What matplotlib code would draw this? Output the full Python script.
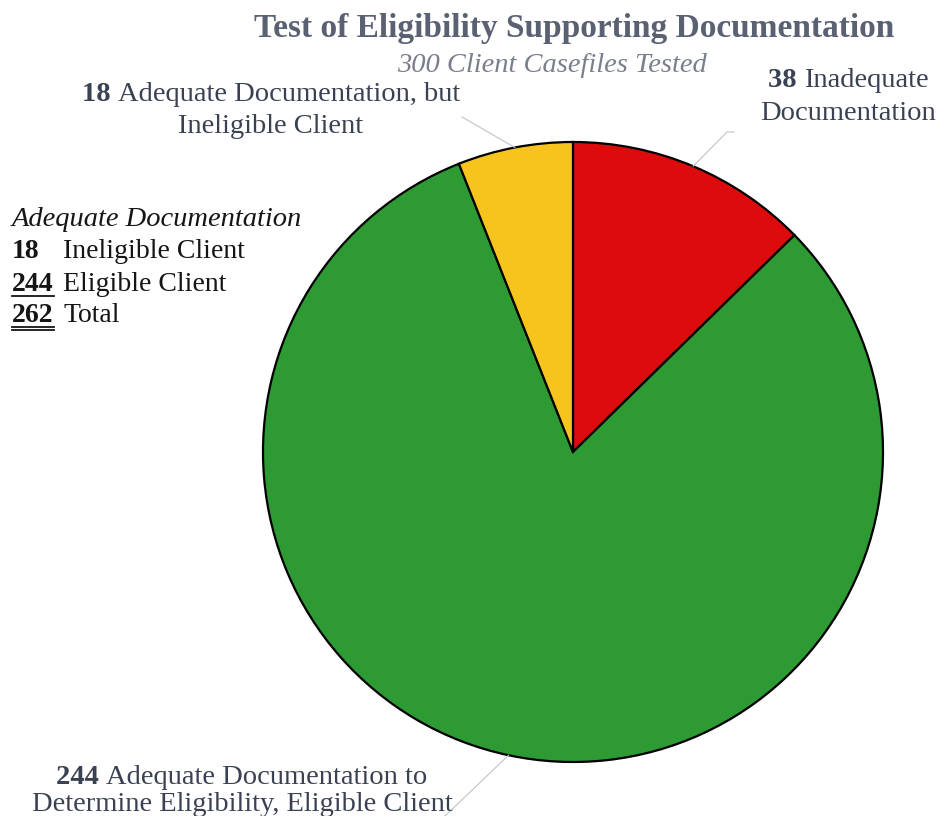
import numpy as np
import matplotlib
matplotlib.use("Agg")
import matplotlib.pyplot as plt

# data
counts = [38, 244, 18]
slice_colors = ["#dc0b0c", "#2e9a33", "#f6c41c"]
title = "Test of Eligibility Supporting Documentation"
subtitle = "300 Client Casefiles Tested"
label_numbers = ["38", "244", "18"]
label_lines = [
    ["Inadequate", "Documentation"],
    ["Adequate Documentation to", "Determine Eligibility, Eligible Client"],
    ["Adequate Documentation, but", "Ineligible Client"],
]
summary_head = "Adequate Documentation"
summary_numbers = ["18", "244", "262"]
summary_names = ["Ineligible Client", "Eligible Client", "Total"]

W, H = 936, 816
LABEL_COL = "#3a4152"
SERIF = "Liberation Serif"

fig = plt.figure(figsize=(W / 100, H / 100), dpi=100)
ax = fig.add_axes([0, 0, 1, 1])


def py(y):
    # pixel row from the top -> data y
    return H - y


cx, cy, rad = 573, py(452), 310
wedges, _ = ax.pie(counts, colors=slice_colors, startangle=90, counterclock=False,
                   center=(cx, cy), radius=rad, frame=True,
                   wedgeprops=dict(edgecolor="black", linewidth=1.6))
ax.set_xlim(0, W)
ax.set_ylim(0, H)
ax.set_aspect("equal")
ax.axis("off")

renderer = fig.canvas.get_renderer()


def width_of(t):
    return t.get_window_extent(renderer=renderer).width


def line_runs(x, y, parts, ha="center", size=20.5, color=LABEL_COL):
    # parts: list of (text, weight); laid out side by side on one baseline
    texts = [ax.text(0, y, s, fontsize=size, fontweight=w, family=SERIF,
                     color=color, va="baseline", ha="left") for s, w in parts]
    widths = [width_of(t) for t in texts]
    total = sum(widths)
    x0 = x - total / 2 if ha == "center" else (x - total if ha == "right" else x)
    for t, w in zip(texts, widths):
        t.set_x(x0)
        x0 += w
    return texts


# title block
ax.text(574, py(37), title, fontsize=24, fontweight="bold", family=SERIF,
        color="#5a6172", ha="center", va="baseline")
ax.text(552, py(72), subtitle, fontsize=20.5, style="italic", family=SERIF,
        color="#7a7f8c", ha="center", va="baseline")

# slice labels with leader lines (edge point at slice middle -> label end)
label_pos = [(848, [87, 120]), (242, [784, 811]), (271, [101, 133])]
leader_end = [[(727, 132), (734, 132)], [(445, 816)], [(462, 117)]]
for wdg, num, lines, (lx, ys), ends in zip(wedges, label_numbers, label_lines,
                                            label_pos, leader_end):
    mid = np.deg2rad((wdg.theta1 + wdg.theta2) / 2)
    xs = [cx + rad * np.cos(mid)] + [e[0] for e in ends]
    ys_l = [cy + rad * np.sin(mid)] + [py(e[1]) for e in ends]
    ax.plot(xs, ys_l, color="#bfc3cb", lw=0.8)
    line_runs(lx, py(ys[0]), [(num + " ", "bold"), (lines[0], "normal")])
    line_runs(lx, py(ys[1]), [(lines[1], "normal")])

# summary block on the left
ax.text(12, py(226), summary_head, fontsize=20.5, style="italic", family=SERIF,
        color="#151515", ha="left", va="baseline")
row_y = [258, 291, 322]
for i, (num, name, yy) in enumerate(zip(summary_numbers, summary_names, row_y)):
    t = ax.text(12, py(yy), num, fontsize=20, fontweight="bold", family=SERIF,
                color="#151515", ha="left", va="baseline")
    ax.text(63, py(yy), name, fontsize=20, family=SERIF, color="#151515",
            ha="left", va="baseline")
    nw = width_of(t)
    if i >= 1:
        ax.plot([12, 12 + nw], [py(yy + 5)] * 2, color="#151515", lw=1.3)
    if i == 2:
        ax.plot([12, 12 + nw], [py(yy + 8)] * 2, color="#151515", lw=1.3)

fig.savefig("out.png", dpi=100, facecolor="white")
